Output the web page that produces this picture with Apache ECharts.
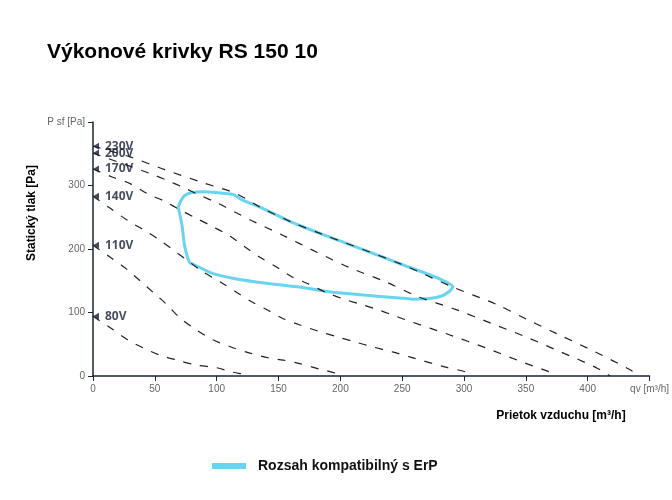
<!DOCTYPE html>
<html>
<head>
<meta charset="utf-8">
<title>Výkonové krivky RS 150 10</title>
<script src="https://cdn.jsdelivr.net/npm/echarts@6/dist/echarts.min.js"></script>
<style>
  body { margin: 0; background: #fff; }
  #main { width: 672px; height: 500px; }
</style>
</head>
<body>
<div id="main"></div>
<script>
  // pracovne krivky ventilatora [qv m3/h, p Pa]
  var curve230 = [[0,362],[30,345],[58,325],[88,305],[116,287],[135,266],[161,242],[183,225],[248,177],[291,140],[326,113],[352,88],[379,63],[406,38],[435,9],[441,0]];
  var curve200 = [[0,351],[46,319],[60,308],[73,297],[86,285],[101,272],[115,258],[128,245],[153,222],[181,195],[207,171],[237,148],[264,124],[293,105],[322,83],[352,60],[378,38],[406,14],[418,0]];
  var curve170 = [[0,326],[16,313],[30,303],[44,287],[57,276],[70,262],[84,248],[97,235],[111,220],[123,203],[135,187],[149,171],[161,156],[173,146],[188,132],[203,121],[218,112],[231,104],[245,94],[258,85],[288,65],[318,44],[347,22],[371,5],[375,0]];
  var curve140 = [[0,283],[14,264],[28,245],[41,230],[54,214],[89,164],[103,148],[116,132],[129,116],[141,104],[153,91],[168,80],[183,70],[197,62],[211,54],[226,46],[242,38],[256,30],[285,14],[302,6],[306,0]];
  var curve110 = [[0,206],[14,187],[28,167],[38,150],[49,131],[60,112],[70,92],[84,72],[97,57],[111,46],[127,36],[143,28],[154,25],[168,19],[183,11],[197,4],[201,0]];
  var curve80 = [[0,94],[14,76],[28,57],[41,44],[54,33],[68,25],[84,17],[100,13],[113,6],[124,2],[127,0]];
  var voltages = ['230V', '200V', '170V', '140V', '110V', '80V'];
  var curves = [curve230, curve200, curve170, curve140, curve110, curve80];

  // oblast ErP
  var erpArea = [[69,265],[70,272],[74,284],[80,289],[89,290],[113,286],[121,277],[135,266],[161,242],[183,225],[248,177],[291,140],[288,133],[282,126],[272,122],[258,121],[248,123],[221,127],[194,132],[183,135],[167,140],[140,146],[113,154],[96,162],[81,176],[78,179],[74,206],[72,237],[69,265]];

  var xTicks = { min: 0, max: 450, step: 50, lastLabel: 'qv [m³/h]' };
  var yTicks = { min: 0, max: 400, step: 100, lastLabel: 'P sf [Pa]' };

  var axisColor = '#1c2533';
  var font = '"Liberation Sans", Arial, sans-serif';

  var series = [{
    name: 'Rozsah kompatibilný s ErP',
    type: 'line',
    data: erpArea,
    smooth: 0.2,
    symbol: 'none',
    silent: true,
    lineStyle: { color: '#68d4f1', width: 3 },
    itemStyle: { color: '#68d4f1' },
    z: 2
  }];

  curves.forEach(function (c, i) {
    series.push({
      name: voltages[i],
      type: 'line',
      data: c,
      smooth: 0.3,
      symbol: 'none',
      silent: true,
      lineStyle: { color: '#222', width: 1.2, type: [8, 9] },
      z: 3
    });
  });

  series.push({
    name: 'labels',
    type: 'scatter',
    data: curves.map(function (c, i) { return [c[0][0], c[0][1], voltages[i]]; }),
    symbol: 'triangle',
    symbolSize: [7, 6],
    symbolRotate: 90,
    symbolOffset: [3, 0],
    clip: false,
    silent: true,
    itemStyle: { color: '#161e33' },
    label: {
      show: true,
      position: 'right',
      distance: 6,
      formatter: function (p) { return p.value[2]; },
      color: '#161e33',
      fontWeight: 'bold',
      fontSize: 12,
      fontFamily: '"Open Sans", sans-serif'
    },
    z: 5
  });

  var chart = echarts.init(document.getElementById('main'));
  chart.setOption({
    animation: false,
    title: {
      text: 'Výkonové krivky RS 150 10',
      left: 42, top: 37,
      textStyle: { fontSize: 21, fontWeight: 'bold', color: '#000', fontFamily: font }
    },
    legend: {
      data: ['Rozsah kompatibilný s ErP'],
      bottom: 22, left: 207,
      icon: 'rect', itemWidth: 34, itemHeight: 6,
      textStyle: { fontSize: 14, fontWeight: 'bold', color: '#111', fontFamily: font, padding: [0, 0, 0, 7] }
    },
    grid: { left: 93, right: 21, top: 122, bottom: 124 },
    xAxis: {
      type: 'value',
      min: xTicks.min, max: xTicks.max, interval: xTicks.step,
      splitLine: { show: false },
      axisLine: { lineStyle: { color: axisColor, width: 1.5 } },
      axisTick: { show: true, length: 5, lineStyle: { color: axisColor } },
      axisLabel: {
        color: '#666', fontSize: 10, fontFamily: font, margin: 8,
        formatter: function (v) { return v === xTicks.max ? xTicks.lastLabel : v; }
      }
    },
    yAxis: {
      type: 'value',
      min: yTicks.min, max: yTicks.max, interval: yTicks.step,
      splitLine: { show: false },
      axisLine: { show: true, lineStyle: { color: axisColor, width: 1.5 } },
      axisTick: { show: true, length: 5, lineStyle: { color: axisColor } },
      axisLabel: {
        color: '#666', fontSize: 10, fontFamily: font, margin: 8,
        formatter: function (v) { return v === yTicks.max ? yTicks.lastLabel : v; }
      }
    },
    graphic: [{
      type: 'text',
      x: 32, y: 213,
      rotation: Math.PI / 2,
      style: {
        text: 'Statický tlak [Pa]',
        font: 'bold 12px ' + font,
        fill: '#000',
        textAlign: 'center',
        textVerticalAlign: 'middle'
      }
    }, {
      type: 'text',
      x: 561, y: 416,
      style: {
        text: 'Prietok vzduchu [m³/h]',
        font: 'bold 12px ' + font,
        fill: '#000',
        textAlign: 'center',
        textVerticalAlign: 'middle'
      }
    }],
    series: series
  });
</script>
</body>
</html>
